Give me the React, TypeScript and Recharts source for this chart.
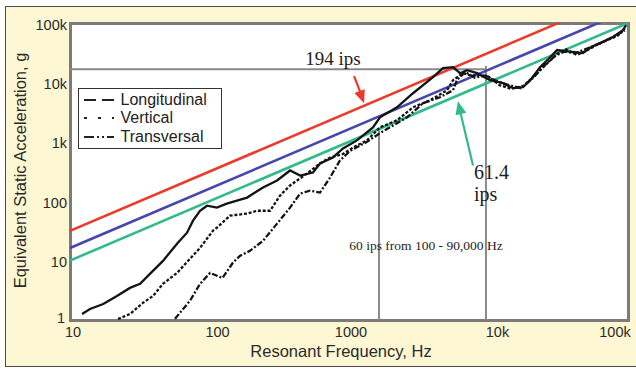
import React from 'react';
import {
  Label,
  Legend,
  Line,
  LineChart,
  ReferenceDot,
  ReferenceLine,
  XAxis,
  YAxis,
} from 'recharts';

// shock response spectra: frequency (Hz) and equivalent static acceleration (g)
const longitudinalHz = [
  12.2, 13.9, 17.3, 21.7, 26.9, 31.8, 37.4, 46.4, 58.5, 69, 76.2, 85.5, 96, 113,
  133, 186, 242, 305, 378, 446, 552, 620, 767, 906, 1140, 1486, 1667, 2207, 2877,
  4000, 4720, 5570, 6250, 7020, 8280, 10260, 12700, 15000, 17670, 20000, 23400,
  27000, 31000, 38400, 47500, 55000, 63000, 78000, 92000, 97000,
];
const longitudinalG = [
  1.26, 1.53, 1.86, 2.54, 3.47, 4.06, 5.98, 9.9, 19.2, 29.5, 47, 69, 84, 78, 91,
  115, 170, 223, 329, 270, 304, 431, 545, 774, 1056, 1750, 2582, 3810, 6570,
  12250, 17380, 18070, 14290, 16070, 14290, 10900, 9690, 8000, 8290, 11000,
  18000, 25000, 35000, 33000, 31100, 40000, 45900, 58000, 76000, 92000,
];

const verticalHz = [
  22.1, 26.9, 33.3, 39.4, 46.4, 58.5, 72.4, 85.5, 106, 113, 140, 186, 219, 272,
  320, 378, 500, 620, 731, 900, 1069, 1346, 1667, 2207, 2877, 3810, 5050, 5570,
  6560, 7500, 8500, 10000, 12000, 14500, 18000, 22000, 27000, 31000, 36000,
  43000, 50000, 60000, 72000, 85000, 95000,
];
const verticalG = [
  1.04, 1.26, 1.94, 2.54, 4.06, 6.2, 10.7, 16.4, 31.9, 35.8, 57, 62, 69, 69, 124,
  184, 293, 431, 545, 620, 800, 1056, 1750, 2300, 3810, 5000, 7380, 10900, 14290,
  13000, 13500, 12500, 9000, 7800, 8800, 14000, 22000, 30000, 36000, 29000,
  34000, 43000, 52000, 62000, 80000,
];

const transversalHz = [
  56.6, 72.4, 85.5, 101, 124, 147, 165, 195, 242, 305, 378, 446, 525, 620, 731,
  861, 1016, 1346, 1667, 2207, 2606, 3390, 4490, 5570, 5940, 6800, 8000, 9500,
  11500, 14000, 17000, 21000, 25000, 30000, 35000, 42000, 52000, 65000, 80000,
  95000,
];
const transversalG = [
  1.05, 2.1, 4.06, 6.2, 5.1, 9.2, 12, 14.6, 21.6, 41.9, 78, 134, 151, 140, 250,
  485, 700, 1000, 1400, 2046, 2582, 4450, 5620, 7380, 10900, 15000, 12000, 13000,
  10500, 9000, 8000, 12000, 19000, 28000, 33000, 31000, 38000, 47000, 60000,
  75000,
];

// constant velocity lines (194, 100 and 61.4 ips), end points
const velocityHz = [10, 100000];
const ips194G = [31.6, 316000];
const ips100G = [16.3, 163000];
const ips61G = [10, 100000];

// grey marker lines
const markerLowHz = 1640;
const markerHighHz = 9590;
const markerG = 16700;

const xTicks = [10, 100, 1000, 10000, 100000];
const xTickLabels = ['10', '100', '1000', '10k', '100k'];
const yTicks = [1, 10, 100, 1000, 10000, 100000];
const yTickLabels = ['1', '10', '100', '1k', '10k', '100k'];

const legendNames = ['Longitudinal', 'Vertical', 'Transversal'];
const legendDash: Record<string, string> = {
  Longitudinal: '12 6',
  Vertical: '3 11',
  Transversal: '10 3 2 3 2 3 7',
};

const SANS = '"Liberation Sans", Arial, Helvetica, sans-serif';
const SERIF = '"Liberation Serif", "Times New Roman", serif';
const RED = '#ec3a2a';
const BLUE = '#4646ae';
const GREEN = '#33b98e';
const INK = '#141414';
const GREY = '#8a8a8a';

const toPoints = (hz: number[], g: number[]) =>
  hz.map((f, i) => ({ f, g: g[i] }));

const xShift = [3, 8, 2, 9, -13];

const XTick = (props: any) => {
  const { x, y, payload, index } = props;
  const i = xTicks.indexOf(payload.value);
  return (
    <text
      x={x + (xShift[i] ?? 0)}
      y={y + 17}
      textAnchor="middle"
      fontFamily={SANS}
      fontSize={14.5}
      fill="#2a2a2a"
      key={index}>
      {xTickLabels[i]}
    </text>
  );
};

const YTick = (props: any) => {
  const { x, y, payload, index } = props;
  const i = yTicks.indexOf(payload.value);
  const first = i === 0;
  return (
    <text
      x={x - 3 - (first ? 2 : 0)}
      y={y + 6.5 - (first ? 4 : 0)}
      textAnchor="end"
      fontFamily={SANS}
      fontSize={14.5}
      fill="#2a2a2a"
      key={index}>
      {yTickLabels[i]}
    </text>
  );
};

const XTitle = (props: any) => {
  const vb = props.viewBox;
  return (
    <text
      x={vb.x + vb.width / 2 - 8}
      y={vb.y + 37}
      textAnchor="middle"
      fontFamily={SANS}
      fontSize={16.5}
      fill="#2a2a2a">
      Resonant Frequency, Hz
    </text>
  );
};

const YTitle = (props: any) => {
  const vb = props.viewBox;
  const cx = vb.x + 16;
  const cy = vb.y + vb.height / 2 - 1;
  return (
    <text
      x={cx}
      y={cy}
      transform={`rotate(-90 ${cx} ${cy})`}
      textAnchor="middle"
      fontFamily={SANS}
      fontSize={16.5}
      fill="#2a2a2a">
      Equivalent Static Acceleration, g
    </text>
  );
};

// only the three response curves go in the legend box
const LegendBox = (props: any) => {
  const items = legendNames
    .map((name) => (props.payload || []).find((p: any) => p.value === name))
    .filter(Boolean);
  return (
    <div
      style={{
        width: 144,
        boxSizing: 'border-box',
        border: '1.5px solid #333',
        background: '#fff',
        padding: '1.5px 0 2px 4px',
      }}>
      {items.map((item: any) => (
        <div
          key={item.value}
          style={{ display: 'flex', alignItems: 'center', height: 18.5 }}>
          <svg width={32} height={10}>
            <line
              x1={1}
              y1={5}
              x2={31}
              y2={5}
              stroke="#222"
              strokeWidth={2.2}
              strokeDasharray={legendDash[item.value]}
            />
          </svg>
          <span
            style={{
              marginLeft: 5.5,
              fontFamily: SANS,
              fontSize: 16,
              color: '#222',
              lineHeight: '18px',
            }}>
            {item.value}
          </span>
        </div>
      ))}
    </div>
  );
};

const arrowHead = (color: string, angle: number) => (p: any) => (
  <polygon
    points="0,0 -13,-5.5 -13,5.5"
    fill={color}
    transform={`translate(${p.cx},${p.cy}) rotate(${angle})`}
  />
);

const note =
  (lines: string[], size: number, anchor: 'start' | 'middle', gap = 0) =>
  (p: any) => (
    <text
      x={p.cx}
      y={p.cy}
      textAnchor={anchor}
      fontFamily={SERIF}
      fontSize={size}
      fill="#1e1e1e">
      {lines.map((t, i) => (
        <tspan key={t} x={p.cx} dy={i === 0 ? 0 : gap}>
          {t}
        </tspan>
      ))}
    </text>
  );

export default function App() {
  return (
    <div
      style={{
        position: 'absolute',
        left: 0,
        top: 0,
        width: 636,
        height: 369,
        background: '#fff',
        overflow: 'hidden',
      }}>
      <div
        style={{
          position: 'absolute',
          left: 5,
          top: 6,
          width: 640,
          height: 361,
          background: '#fdf7d4',
          border: '1.5px solid #4a4a4a',
          boxSizing: 'border-box',
        }}
      />
      <div
        style={{
          position: 'absolute',
          left: 68.5,
          top: 21.5,
          width: 561,
          height: 300,
          background: '#fff',
          border: '3px solid #7b7b7b',
          boxSizing: 'border-box',
        }}
      />
      <div style={{ position: 'absolute', left: 0, top: 0 }}>
        <LineChart
          width={636}
          height={369}
          margin={{ top: 23, right: 8, bottom: 19, left: 10 }}>
          <XAxis
            dataKey="f"
            type="number"
            scale="log"
            domain={[10, 100000]}
            ticks={xTicks}
            interval={0}
            allowDataOverflow
            axisLine={false}
            tickLine={false}
            tickSize={0}
            tickMargin={0}
            height={30}
            tick={XTick}>
            <Label content={XTitle} />
          </XAxis>
          <YAxis
            type="number"
            scale="log"
            domain={[1, 100000]}
            ticks={yTicks}
            interval={0}
            allowDataOverflow
            axisLine={false}
            tickLine={false}
            tickSize={0}
            tickMargin={0}
            width={60}
            tick={YTick}>
            <Label content={YTitle} />
          </YAxis>

          <ReferenceLine
            segment={[
              { x: 10, y: markerG },
              { x: markerHighHz, y: markerG },
            ]}
            stroke={GREY}
            strokeWidth={2}
          />
          <ReferenceLine
            segment={[
              { x: markerHighHz, y: 1 },
              { x: markerHighHz, y: 19000 },
            ]}
            stroke={GREY}
            strokeWidth={2}
          />
          <ReferenceLine
            segment={[
              { x: markerLowHz, y: 1 },
              { x: markerLowHz, y: markerLowHz },
            ]}
            stroke={GREY}
            strokeWidth={2}
          />

          <Line
            data={toPoints(velocityHz, ips194G)}
            dataKey="g"
            stroke={RED}
            strokeWidth={2.6}
            dot={false}
            legendType="none"
            isAnimationActive={false}
          />
          <Line
            data={toPoints(velocityHz, ips100G)}
            dataKey="g"
            stroke={BLUE}
            strokeWidth={2.6}
            dot={false}
            legendType="none"
            isAnimationActive={false}
          />
          <Line
            data={toPoints(velocityHz, ips61G)}
            dataKey="g"
            stroke={GREEN}
            strokeWidth={2.6}
            dot={false}
            legendType="none"
            isAnimationActive={false}
          />

          <Line
            name="Longitudinal"
            data={toPoints(longitudinalHz, longitudinalG)}
            dataKey="g"
            stroke={INK}
            strokeWidth={2.3}
            dot={false}
            isAnimationActive={false}
          />
          <Line
            name="Vertical"
            data={toPoints(verticalHz, verticalG)}
            dataKey="g"
            stroke={INK}
            strokeWidth={2.3}
            strokeDasharray="3 1.8"
            dot={false}
            isAnimationActive={false}
          />
          <Line
            name="Transversal"
            data={toPoints(transversalHz, transversalG)}
            dataKey="g"
            stroke={INK}
            strokeWidth={2.3}
            strokeDasharray="6 2 2 2"
            dot={false}
            isAnimationActive={false}
          />

          {/* arrows pointing at the 194 ips and 61.4 ips lines */}
          <ReferenceLine
            segment={[
              { x: 1087, y: 12730 },
              { x: 1270, y: 5000 },
            ]}
            stroke={RED}
            strokeWidth={2.2}
          />
          <ReferenceDot x={1282} y={4457} r={0} shape={arrowHead(RED, 70)} />
          <ReferenceLine
            segment={[
              { x: 7745, y: 399 },
              { x: 6150, y: 3900 },
            ]}
            stroke={GREEN}
            strokeWidth={2.2}
          />
          <ReferenceDot
            x={6040}
            y={4810}
            r={0}
            shape={arrowHead(GREEN, -103)}
          />

          <ReferenceDot
            x={767}
            y={19500}
            r={0}
            shape={note(['194 ips'], 19, 'middle')}
          />
          <ReferenceDot
            x={7870}
            y={232}
            r={0}
            shape={note(['61.4', 'ips'], 20, 'start', 22)}
          />
          <ReferenceDot
            x={3565}
            y={15.2}
            r={0}
            shape={note(['60 ips from 100 - 90,000 Hz'], 13.5, 'middle')}
          />

          <Legend
            layout="vertical"
            align="center"
            verticalAlign="middle"
            content={LegendBox}
            wrapperStyle={{ left: 78, top: 88, width: 144 }}
          />
        </LineChart>
      </div>
    </div>
  );
}
